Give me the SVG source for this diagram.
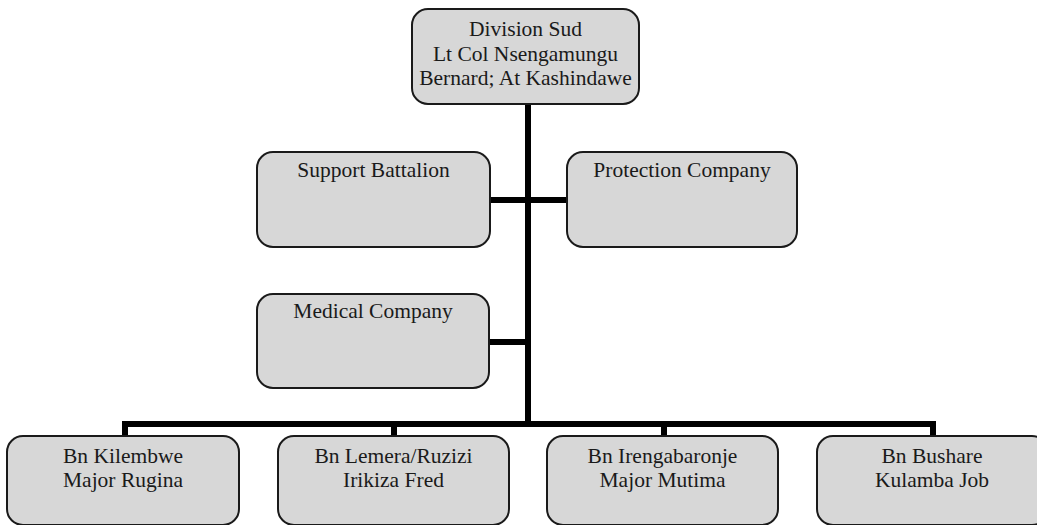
<svg xmlns="http://www.w3.org/2000/svg" width="1037" height="525" viewBox="0 0 1037 525">
<style>
.box{fill:#d7d7d7;stroke:#1a1a1a;stroke-width:2}
.lbl{font-family:"Liberation Serif","Times New Roman",serif;font-size:21.5px;fill:#1a1a1a;text-anchor:middle}
.conn{stroke:#000;stroke-width:6;fill:none}
</style>
<rect width="1037" height="525" fill="#fff"/>
<g id="connectors">
<line class="conn" x1="528" y1="104" x2="528" y2="427"/>
<line class="conn" x1="490" y1="200" x2="567" y2="200"/>
<line class="conn" x1="489" y1="342" x2="528" y2="342"/>
<line class="conn" x1="122" y1="424" x2="936" y2="424"/>
<line class="conn" x1="125" y1="424" x2="125" y2="436"/>
<line class="conn" x1="394" y1="424" x2="394" y2="436"/>
<line class="conn" x1="664" y1="424" x2="664" y2="436"/>
<line class="conn" x1="933" y1="424" x2="933" y2="436"/>
</g>
<g id="division">
<rect class="box" x="412" y="9" width="227" height="95" rx="16"/>
<text class="lbl" x="525.5" y="36">Division Sud</text>
<text class="lbl" x="525.5" y="60.5">Lt Col Nsengamungu</text>
<text class="lbl" x="525.5" y="85">Bernard; At Kashindawe</text>
</g>
<g id="support">
<rect class="box" x="257" y="152" width="233" height="95" rx="16"/>
<text class="lbl" x="373.5" y="177">Support Battalion</text>
</g>
<g id="protection">
<rect class="box" x="567" y="152" width="230" height="95" rx="16"/>
<text class="lbl" x="682" y="177">Protection Company</text>
</g>
<g id="medical">
<rect class="box" x="257" y="294" width="232" height="94" rx="16"/>
<text class="lbl" x="373" y="318">Medical Company</text>
</g>
<g id="kilembwe">
<rect class="box" x="7" y="436" width="232" height="89" rx="16"/>
<text class="lbl" x="123" y="463">Bn Kilembwe</text>
<text class="lbl" x="123" y="486.5">Major Rugina</text>
</g>
<g id="lemera">
<rect class="box" x="278" y="436" width="231" height="89" rx="16"/>
<text class="lbl" x="393.5" y="463">Bn Lemera/Ruzizi</text>
<text class="lbl" x="393.5" y="486.5">Irikiza Fred</text>
</g>
<g id="irenga">
<rect class="box" x="547" y="436" width="231" height="89" rx="16"/>
<text class="lbl" x="662.5" y="463">Bn Irengabaronje</text>
<text class="lbl" x="662.5" y="486.5">Major Mutima</text>
</g>
<g id="bushare">
<rect class="box" x="817" y="436" width="231" height="89" rx="16"/>
<text class="lbl" x="932" y="463">Bn Bushare</text>
<text class="lbl" x="932" y="486.5">Kulamba Job</text>
</g>
</svg>
